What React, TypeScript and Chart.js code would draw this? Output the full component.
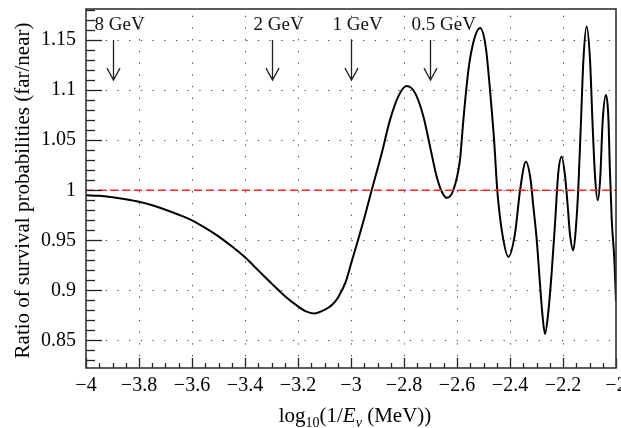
import { useEffect, useRef } from "react";
import { Chart, registerables } from "chart.js";

Chart.register(...registerables);

// log10(1/E_nu (MeV)) sample positions and ratio of survival probabilities (far/near)
const logInvEnergy = [
  -4.0, -3.95, -3.9, -3.85, -3.8, -3.75, -3.7, -3.65, -3.6, -3.55, -3.5, -3.45, -3.4, -3.35, -3.3,
  -3.25, -3.2, -3.17, -3.14, -3.1, -3.07, -3.05, -3.02, -3.0, -2.976, -2.95, -2.922, -2.884, -2.853, -2.821,
  -2.79, -2.758, -2.727, -2.702, -2.677, -2.658, -2.639, -2.614, -2.589, -2.576, -2.557, -2.536, -2.513,
  -2.491, -2.469, -2.46, -2.448, -2.431, -2.406, -2.381, -2.362, -2.34, -2.322, -2.312, -2.299, -2.287,
  -2.277, -2.268, -2.256, -2.243, -2.23, -2.218, -2.205, -2.192, -2.182, -2.174, -2.161, -2.151, -2.142,
  -2.132, -2.123, -2.111, -2.098, -2.089, -2.079, -2.069, -2.06, -2.05, -2.038, -2.029, -2.023, -2.016,
  -2.006, -2.0,
];
const survivalRatio = [
  0.995, 0.9945, 0.993, 0.991, 0.9885, 0.985, 0.9805, 0.9755, 0.97, 0.9625, 0.954, 0.944, 0.933, 0.92, 0.907,
  0.8945, 0.884, 0.879, 0.877, 0.8805, 0.886, 0.8925, 0.9085, 0.9265, 0.948, 0.972, 1.0, 1.037, 1.07, 1.094,
  1.104, 1.097, 1.074, 1.044, 1.014, 0.999, 0.9925, 1.0, 1.03, 1.07, 1.12, 1.15, 1.162,
  1.142, 1.08, 1.05, 1.0, 0.96, 0.9335, 0.957, 1.0, 1.0285, 1.01, 0.984, 0.95, 0.907,
  0.874, 0.8565, 0.877, 0.917, 0.967, 1.017, 1.0335, 1.0135, 0.9835, 0.957, 0.94, 0.9635, 1.0035,
  1.07, 1.13, 1.1635, 1.13, 1.07, 1.0135, 0.99, 1.01, 1.07, 1.095, 1.074, 1.02, 0.97,
  0.93, 0.889,
];

const referenceX = [-4, -2];
const referenceY = [1, 1];

const xTickValues = [-4, -3.8, -3.6, -3.4, -3.2, -3, -2.8, -2.6, -2.4, -2.2, -2];
const yTickValues = [0.85, 0.9, 0.95, 1, 1.05, 1.1, 1.15];

const energyLabels = ["8 GeV", "2 GeV", "1 GeV", "0.5 GeV"];
const energyMarks = [-3.9, -3.3, -3, -2.7];

const xTitleParts = [
  { text: "log", sub: false, italic: false },
  { text: "10", sub: true, italic: false },
  { text: "(1/", sub: false, italic: false },
  { text: "E", sub: false, italic: true },
  { text: "ν", sub: true, italic: true },
  { text: " (MeV))", sub: false, italic: false },
];
const yTitle = "Ratio of survival probabilities (far/near)";

const SERIF = '"Liberation Serif", "Times New Roman", serif';

function fmt(v: number) {
  const r = Math.round(v * 100) / 100;
  const s = String(Math.abs(r));
  return r < 0 ? "\u2212" + s : s;
}

const decorPlugin = {
  id: "decor",
  beforeDatasetsDraw(chart: any) {
    const { ctx, chartArea: a, scales } = chart;
    const xs = scales.x;
    const ys = scales.y;
    ctx.save();
    ctx.strokeStyle = "#444";
    ctx.lineWidth = 1;
    ctx.setLineDash([1.3, 10.4]);
    for (const v of xTickValues) {
      const px = Math.round(xs.getPixelForValue(v)) + 0.5;
      if (px <= a.left + 2 || px >= a.right - 2) continue;
      ctx.beginPath();
      ctx.moveTo(px, a.bottom);
      ctx.lineTo(px, a.top);
      ctx.stroke();
    }
    for (const v of yTickValues) {
      const py = Math.round(ys.getPixelForValue(v)) + 0.5;
      ctx.beginPath();
      ctx.moveTo(a.left + 8, py);
      ctx.lineTo(a.right, py);
      ctx.stroke();
    }
    ctx.restore();
  },
  afterDraw(chart: any) {
    const { ctx, chartArea: a, scales } = chart;
    const xs = scales.x;
    const ys = scales.y;
    ctx.save();
    ctx.setLineDash([]);
    ctx.strokeStyle = "#222";
    ctx.lineWidth = 1.3;
    // x ticks (inward, bottom)
    for (let i = 0; i <= 40; i++) {
      const v = -4 + i * 0.05;
      const px = Math.round(xs.getPixelForValue(v)) + 0.5;
      const len = i % 4 === 0 ? 10 : 5;
      ctx.beginPath();
      ctx.moveTo(px, a.bottom);
      ctx.lineTo(px, a.bottom - len);
      ctx.stroke();
    }
    // y ticks (inward, left)
    for (let i = 83; i <= 118; i++) {
      const v = i / 100;
      const py = Math.round(ys.getPixelForValue(v)) + 0.5;
      const len = i % 5 === 0 ? 16 : 9;
      ctx.beginPath();
      ctx.moveTo(a.left, py);
      ctx.lineTo(a.left + len, py);
      ctx.stroke();
    }
    // frame
    ctx.strokeStyle = "#333";
    ctx.lineWidth = 1.6;
    ctx.strokeRect(a.left, a.top, a.right - a.left, a.bottom - a.top);

    // energy arrows and labels
    ctx.strokeStyle = "#222";
    ctx.lineWidth = 1.3;
    ctx.fillStyle = "#111";
    ctx.font = `19px ${SERIF}`;
    ctx.textAlign = "left";
    ctx.textBaseline = "alphabetic";
    energyMarks.forEach((m, i) => {
      const px = Math.round(xs.getPixelForValue(m)) + 0.5;
      const yTop = ys.getPixelForValue(1.15);
      const yBot = ys.getPixelForValue(1.11);
      ctx.beginPath();
      ctx.moveTo(px, yTop);
      ctx.lineTo(px, yBot);
      ctx.moveTo(px - 6.5, yBot - 12);
      ctx.lineTo(px, yBot);
      ctx.lineTo(px + 6.5, yBot - 12);
      ctx.stroke();
      ctx.fillText(energyLabels[i], px - 19, ys.getPixelForValue(1.1603));
    });

    // y title
    ctx.fillStyle = "#000";
    ctx.save();
    ctx.translate(28.5, (a.top + a.bottom) / 2 + 2);
    ctx.rotate(-Math.PI / 2);
    ctx.font = `21px ${SERIF}`;
    ctx.textAlign = "center";
    ctx.textBaseline = "alphabetic";
    ctx.fillText(yTitle, 0, 0);
    ctx.restore();

    // x title with subscripts
    const fontFor = (p: any) => `${p.italic ? "italic " : ""}${p.sub ? 14 : 21}px ${SERIF}`;
    let total = 0;
    for (const p of xTitleParts) {
      ctx.font = fontFor(p);
      total += ctx.measureText(p.text).width;
    }
    let x = (a.left + a.right) / 2 + 4 - total / 2;
    const base = 422;
    ctx.textAlign = "left";
    for (const p of xTitleParts) {
      ctx.font = fontFor(p);
      ctx.fillText(p.text, x, base + (p.sub ? 5 : 0));
      x += ctx.measureText(p.text).width;
    }
    ctx.restore();
  },
};

export default function App() {
  const ref = useRef<HTMLCanvasElement | null>(null);
  useEffect(() => {
    if (!ref.current) return;
    const chart = new Chart(ref.current, {
      type: "line",
      data: {
        datasets: [
          {
            data: referenceX.map((x, i) => ({ x, y: referenceY[i] })),
            borderColor: "#ff2020",
            borderWidth: 1.6,
            borderDash: [8, 4],
            pointRadius: 0,
            fill: false,
          },
          {
            data: logInvEnergy.map((x, i) => ({ x, y: survivalRatio[i] })),
            borderColor: "#000",
            borderWidth: 2,
            pointRadius: 0,
            fill: false,
            cubicInterpolationMode: "monotone",
          },
        ],
      },
      options: {
        animation: false,
        responsive: false,
        devicePixelRatio: 1,
        layout: { padding: { left: 0, right: 5, top: 9, bottom: 0 } },
        plugins: { legend: { display: false }, tooltip: { enabled: false } },
        scales: {
          x: {
            type: "linear",
            min: -4,
            max: -2,
            afterBuildTicks: (s: any) => {
              s.ticks = xTickValues.map((v) => ({ value: v }));
            },
            afterFit: (s: any) => {
              s.height = 60;
              s.paddingLeft = 0;
              s.paddingRight = 0;
            },
            grid: { display: false, drawTicks: false },
            border: { display: false },
            ticks: {
              autoSkip: false,
              maxRotation: 0,
              minRotation: 0,
              padding: 6,
              color: "#000",
              font: { family: SERIF, size: 20 },
              callback: (v: any) => fmt(Number(v)),
            },
          },
          y: {
            type: "linear",
            min: 0.8225,
            max: 1.181,
            afterBuildTicks: (s: any) => {
              s.ticks = yTickValues.map((v) => ({ value: v }));
            },
            afterFit: (s: any) => {
              s.width = 86;
              s.paddingTop = 0;
              s.paddingBottom = 0;
            },
            grid: { display: false, drawTicks: false },
            border: { display: false },
            ticks: {
              autoSkip: false,
              padding: 10,
              color: "#000",
              font: { family: SERIF, size: 20 },
              callback: (v: any) => fmt(Number(v)),
            },
          },
        },
      },
      plugins: [decorPlugin],
    } as any);
    return () => chart.destroy();
  }, []);
  return (
    <div style={{ position: "fixed", left: 0, top: 0, width: 621, height: 428 }}>
      <canvas ref={ref} width={621} height={428} style={{ display: "block", width: 621, height: 428 }} />
    </div>
  );
}
